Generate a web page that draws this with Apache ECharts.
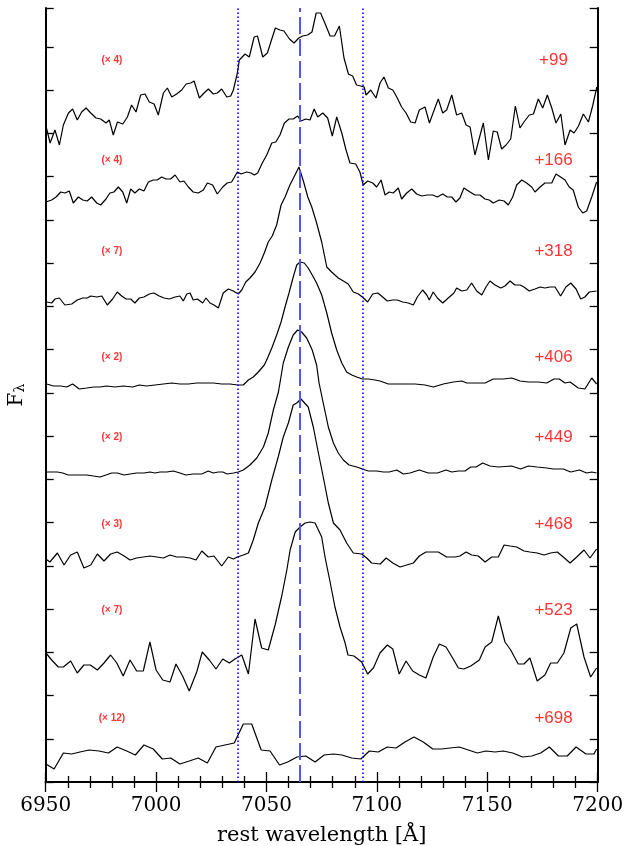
<!DOCTYPE html>
<html><head><meta charset="utf-8">
<script src="https://cdn.jsdelivr.net/npm/echarts@6/dist/echarts.min.js"></script>
<style>html,body{margin:0;padding:0;background:#fff}#c{width:626px;height:846px}</style>
</head><body><div id="c"></div>
<script>
// Flux in arbitrary (offset) units, wavelength in Angstrom
const wl99=[6950,6952,6954.2,6956.2,6958,6960.3,6962.2,6964.3,6966.3,6968.3,6970.4,6972.8,6974.9,6977.3,6978.8,6980.6,6982.5,6984.9,6987,6988.9,6990.9,6993,6995,6996.9,6999.1,7001,7003.3,7005.1,7007.1,7009.3,7011.6,7013.6,7015.7,7017.2,7019.6,7021.7,7023.7,7025.9,7027.7,7029.7,7032,7033.8,7035,7036.8,7037.7,7040.3,7042.2,7044.4,7045.9,7048.3,7050.4,7052.4,7054,7056.1,7057.9,7060.4,7062.5,7064.6,7066.4,7068.6,7070.6,7072.5,7074.5,7076.6,7078.8,7080.8,7083,7085.1,7087.1,7089,7090.8,7092.7,7094.2,7095.1,7097.2,7099.6,7101.4,7103.2,7105.2,7107.2,7109,7111.2,7113.2,7115.3,7117.3,7119.2,7121.8,7123.8,7125.6,7127.8,7129.8,7131.6,7133.9,7136.1,7138.4,7140.4,7142.2,7144.4,7146.4,7148.2,7150.5,7152.7,7154.5,7156.5,7158.5,7160.6,7162.7,7164.8,7166.6,7169,7170.9,7173.1,7175.1,7177.2,7179.2,7181.1,7183.3,7185.2,7187.5,7189.3,7191.3,7193.5,7195.8,7197.7,7199.6];
const fx99=[657,639,652,637,657,669,673,662,670,674,669,664,663,659,662,647,660,658,665,677,670,687,688,680,678,667,689,694,685,688,692,698,699,701,684,689,693,688,689,693,685,686,692,709,722,728,725,745,746,725,729,743,754,752,751,743,739,744,746,747,750,769,769,758,746,746,756,724,708,706,697,696,695,687,692,684,699,705,694,692,685,675,669,660,659,672,675,659,670,683,669,672,687,667,669,657,655,627,644,659,622,651,650,633,637,643,676,654,660,667,668,683,674,687,674,659,668,637,652,649,656,668,660,676,695];

const wl166=[6950.1,6952.7,6954.7,6956.8,6958.7,6960.7,6962.5,6964.8,6966.8,6968.8,6970.8,6973.1,6974.9,6977.3,6979.1,6980.9,6982.9,6984.9,6986.7,6988.5,6990.4,6992.4,6994.5,6996.5,6998.7,7000.5,7002.5,7004.5,7006.6,7008.6,7010.8,7012.6,7014.6,7016.8,7019.1,7021.4,7023.2,7025.6,7027.7,7030.2,7032.2,7034.2,7036.8,7038.5,7041,7043,7044.5,7046,7048.1,7050.1,7052.4,7054.2,7056.1,7058.1,7060.2,7062.1,7064.1,7065.6,7067.8,7069.7,7071.6,7073.2,7075.5,7077.7,7079.8,7081.8,7084.1,7085.9,7087.8,7090.4,7092.3,7093.8,7095.8,7098.1,7099.9,7101.9,7103.7,7105.6,7107.4,7109.7,7111.2,7113.5,7115.8,7118,7120.3,7122.8,7125.3,7127.4,7129.8,7131.9,7133.9,7135.8,7137.6,7139.4,7142.2,7144.4,7146.7,7148.9,7150.9,7152.7,7155.4,7157.6,7159.5,7161.5,7163.3,7165.6,7167.8,7170.1,7171.6,7173.9,7176.1,7179.2,7181.1,7183.2,7185.2,7187.1,7188.9,7191.2,7193.2,7195,7197.3,7199.5];
const fx166=[580,582,585,590,589,591,579,585,582,581,585,579,577,583,589,590,595,590,579,593,589,593,591,600,602,602,605,603,603,607,600,601,595,590,589,592,599,597,588,595,599,600,610,608,610,609,607,609,619,627,639,640,647,659,663,663,666,661,663,662,673,665,669,664,646,665,649,633,619,618,610,597,601,599,595,602,587,590,589,594,583,589,593,588,586,587,587,585,588,585,585,580,584,594,590,587,587,583,582,579,582,581,577,585,597,602,599,595,590,595,599,599,608,605,602,595,592,575,569,571,585,600];

const wl318=[6950.5,6952.7,6954.2,6956.2,6958.7,6961.8,6964.3,6966.8,6968.8,6970.4,6973.1,6975.4,6977.9,6980.3,6982.4,6984.4,6986.4,6988.5,6990.4,6992.4,6994.5,6996.9,6999,7001.4,7003.6,7006,7008.6,7010.8,7012.3,7013.9,7015.4,7016.8,7018.7,7021.1,7022.6,7024.4,7026.2,7028.2,7030.4,7032.7,7035,7037.2,7038.8,7040.6,7042.5,7044.8,7047.1,7049,7050.8,7052.6,7054.6,7056.6,7058.4,7060.6,7062.9,7064.7,7066.7,7068.7,7070.5,7072.7,7075,7077.3,7079.5,7082.5,7084.8,7087,7089.3,7091.6,7093.4,7095.8,7098.1,7100.4,7102.6,7104.7,7107.2,7109.2,7111.7,7114.2,7116.5,7118.3,7120.7,7122.6,7123.7,7125.5,7127.4,7129.8,7132.3,7134.9,7136.1,7138.4,7140.7,7142.9,7145.2,7147.5,7149.4,7151.2,7153.5,7156.1,7158,7160.3,7162.5,7164.8,7166.6,7169,7171.6,7173.9,7176.1,7178.4,7180.7,7183.2,7185.6,7187.8,7190.2,7192.3,7194.2,7196.2,7199.5];
const fx318=[480,479,483,484,477,478,482,484,484,486,485,486,477,483,490,486,483,483,479,484,485,488,489,486,484,483,485,486,481,488,489,482,483,479,484,479,477,474,489,493,491,488,492,500,504,510,519,529,540,546,557,577,585,597,607,615,601,585,575,559,540,515,510,504,501,498,490,488,485,480,488,489,485,481,482,482,480,479,477,485,492,487,482,490,484,479,484,489,494,491,492,499,491,487,495,501,497,494,496,501,497,497,495,491,493,495,494,495,495,486,495,499,493,483,485,490,491];

const wl406=[6950.5,6953.5,6956.8,6959.5,6962.2,6965.2,6968.6,6971.9,6974.6,6977.6,6981.4,6985.1,6989.4,6992.4,6995.7,6999.5,7003.3,7007.1,7010.8,7014.6,7018.4,7022.1,7025.9,7029.7,7033.5,7036.8,7039.5,7041.8,7044,7046.3,7049,7050.5,7052.4,7054.6,7056.6,7058.4,7060.2,7062.1,7063.7,7065.2,7067.1,7068.9,7070.7,7072.7,7075,7077.3,7079.5,7081.8,7084.1,7086.3,7088.6,7090.9,7093.4,7096.1,7099.1,7101.4,7105.2,7109,7113.5,7117.3,7121.8,7125.6,7130.1,7134.6,7138.4,7140.7,7144.4,7149,7152.7,7157.2,7161.1,7164.8,7168.6,7173.1,7176.9,7180.2,7182.6,7185.2,7187.5,7191.2,7194.2,7197.3,7199.5];
const fx406=[398,396,396,395,398,393,394,395,395,396,395,396,395,397,396,397,398,399,398,398,399,399,399,398,398,397,397,402,405,410,417,424,434,447,460,475,489,505,517,520,519,514,507,499,487,469,449,432,419,410,407,405,403,403,402,401,398,398,398,398,397,395,398,400,401,399,399,399,403,403,404,401,400,400,399,403,403,399,400,394,393,404,398];

const wl449=[6950.5,6952.7,6955.3,6957.7,6960.2,6962.8,6965.5,6968.6,6971.6,6974.6,6977.3,6979.9,6982.4,6985.5,6988.2,6991.2,6994.5,6997.2,6999.5,7001.8,7004.8,7007.8,7010.8,7013.5,7016.8,7020.7,7023.6,7025.9,7028.2,7030.2,7032.2,7035,7037.2,7039.5,7042.5,7045.6,7048.6,7050.8,7053.1,7055.4,7057.6,7059.9,7062.1,7064.1,7065.9,7068.2,7070.7,7072.7,7073.8,7075.7,7078,7080.3,7082.5,7084.8,7087.4,7090.9,7093.4,7096.1,7099.9,7102.9,7105.6,7109,7112,7115,7119.2,7123.3,7127.4,7131.3,7133.9,7136.9,7139.9,7142.5,7144.9,7147.9,7151.2,7155,7161,7165.1,7168.6,7172.6,7176.9,7179.9,7184.4,7187.8,7191.7,7195,7197.3,7199.5];
const fx449=[310,310,310,309,307,307,307,307,306,305,307,309,309,307,308,309,309,310,309,310,310,311,309,307,308,308,311,309,310,310,308,309,310,312,317,324,335,349,372,390,419,435,447,452,450,444,432,417,399,379,355,339,329,322,317,315,313,311,311,310,310,312,308,309,312,309,309,312,310,311,311,315,315,319,316,315,316,313,316,315,314,313,313,310,312,309,310,309];

const wl468=[6950.1,6951.9,6955.3,6958.3,6961.3,6964.3,6967.3,6970.4,6973.4,6976.4,6979.4,6982.4,6985.5,6988.2,6991.2,6994.2,6997.2,7000.3,7003.3,7006.3,7009.3,7012.3,7015.4,7018.1,7020.7,7023.6,7026.2,7029.7,7032.7,7035,7036.8,7039.5,7041.8,7044,7046.3,7049.3,7052.4,7055.3,7057.6,7059.9,7062.1,7063.7,7065.6,7068.9,7071.2,7073.5,7075.7,7078,7080.3,7083.3,7086.3,7089.3,7093.1,7095.4,7097.6,7101.5,7104.2,7107.2,7110.5,7113.5,7116.5,7119.2,7122.2,7125.3,7127.8,7131.6,7135.4,7137.6,7140.4,7142.9,7145.9,7149,7152,7155,7157.6,7160.3,7163.3,7166.6,7169.3,7172.6,7175.7,7178.7,7181.7,7184.4,7187.5,7190.5,7193.8,7196.5,7199.5];
const fx468=[223,220,229,217,227,230,214,217,228,221,228,230,226,222,224,225,226,225,224,227,225,225,224,222,231,225,226,216,225,223,225,227,229,242,259,275,302,325,345,359,377,379,383,375,355,329,305,279,259,252,239,229,228,224,219,218,224,219,215,217,219,226,230,230,230,225,225,226,230,227,226,220,225,225,237,236,235,231,230,229,227,229,230,225,219,225,232,224,233];

const wl523=[6950.1,6952.7,6955.7,6958,6961.3,6964.3,6967.3,6970.2,6973.4,6976.4,6979.4,6982.2,6985.1,6988.2,6991.2,6994.2,6997.2,7000,7003,7006.3,7009,7012,7015,7018.4,7020.9,7024.1,7027.1,7030.2,7033.2,7035.7,7038.8,7041.8,7044.8,7047.8,7050.8,7053.9,7057,7059.2,7060.7,7063,7065.2,7067.5,7069.7,7072,7075,7076.5,7078.8,7081,7083.3,7085.6,7086.9,7089.6,7093.1,7095.8,7098.4,7101.4,7104.7,7107.2,7110.1,7113.2,7116.2,7119.2,7122.2,7125.5,7128.3,7131.3,7134.3,7136.9,7139.4,7142.5,7146.4,7149,7152,7155,7158,7160.6,7164,7166.6,7169.3,7172.6,7176.1,7178.7,7181.7,7184.7,7187.8,7190.5,7193.8,7196.8,7199.5];
const fx523=[129,122,115,115,121,109,117,117,112,119,127,119,106,122,111,111,140,112,102,100,118,106,91,110,130,122,113,123,119,123,127,108,163,134,132,157,187,212,232,250,255,259,260,259,245,225,200,175,155,139,127,126,120,108,114,129,137,133,108,121,111,107,104,125,138,135,124,114,113,116,122,135,140,166,140,132,118,118,124,101,107,119,119,129,154,158,125,105,114];

const wl698=[6950.1,6953.8,6958,6961.8,6965.5,6969.7,6974.1,6978.4,6982.4,6986.7,6990.6,6994.5,6998.7,7002.8,7006.6,7010.8,7015,7019.1,7023.2,7027.1,7031.2,7035.4,7039.5,7043.3,7047.6,7051.6,7055.9,7059.6,7063.8,7067.8,7072,7076.1,7080.3,7084.1,7088.6,7092.7,7096.6,7100.6,7104.7,7108.7,7112.7,7116.8,7121,7125.3,7129.3,7133.1,7137.3,7141.4,7145.5,7149.4,7153.5,7157.2,7161.5,7166,7170.1,7174.2,7178.1,7182.2,7186.2,7190.2,7194.7,7198.3,7199.5];
const fx698=[18,13,29,28,30,32,31,29,35,31,27,37,33,23,24,18,21,24,19,35,37,39,58,58,32,31,17,20,25,26,20,27,28,27,24,23,31,30,35,34,40,45,40,33,33,34,35,32,29,31,30,31,29,25,26,29,35,26,26,35,28,28,33];

const epochs=['+99','+166','+318','+406','+449','+468','+523','+698'];
const scales=['(× 4)','(× 4)','(× 7)','(× 2)','(× 2)','(× 3)','(× 7)','(× 12)'];
const labelFlux=[722,622,531,425,345,258,172,64];
const lineWls=[7037,7065,7093.4];

const spectra=[[wl99,fx99],[wl166,fx166],[wl318,fx318],[wl406,fx406],[wl449,fx449],[wl468,fx468],[wl523,fx523],[wl698,fx698]];
const zip=(a,b)=>a.map((v,i)=>[v,b[i]]);

const series=spectra.map((s,i)=>({
  type:'line',xAxisIndex:0,yAxisIndex:0,data:zip(s[0],s[1]),showSymbol:false,
  lineStyle:{color:'#000',width:1.2},silent:true,animation:false,z:3
}));
series[0].markLine={silent:true,symbol:['none','none'],label:{show:false},animation:false,
  data:[
    {xAxis:lineWls[0],lineStyle:{color:'#0000ff',width:1.6,type:[1.5,2.5]}},
    {xAxis:lineWls[1],lineStyle:{color:'#5555ff',width:2,type:[17,5]}},
    {xAxis:lineWls[2],lineStyle:{color:'#0000ff',width:1.6,type:[1.5,2.5]}}
  ]};
series.push({type:'scatter',symbolSize:1,itemStyle:{color:'rgba(0,0,0,0)'},silent:true,animation:false,
  data:epochs.map((t,i)=>[7180,labelFlux[i],t]),
  label:{show:true,position:'inside',formatter:p=>p.data[2],color:'#ff0000',fontFamily:'Liberation Sans',fontSize:17}});
series.push({type:'scatter',symbolSize:1,itemStyle:{color:'rgba(0,0,0,0)'},silent:true,animation:false,
  data:scales.map((t,i)=>[6980,labelFlux[i],t]),
  label:{show:true,position:'inside',formatter:p=>p.data[2],color:'#ff0000',fontFamily:'Liberation Sans',fontSize:10,fontWeight:'bold'}});

const axLine={lineStyle:{color:'#000',width:2}};
const xCommon={type:'value',min:6950,max:7200,interval:50,axisLine:axLine,splitLine:{show:false},
  axisTick:{inside:true,length:10,lineStyle:{color:'#000',width:1.3}},
  minorTick:{show:true,splitNumber:5,length:6,lineStyle:{color:'#000',width:1.3}}};
const yCommon={type:'value',min:0,max:774,interval:43.25,axisLine:axLine,splitLine:{show:false},
  axisTick:{inside:true,length:8,lineStyle:{color:'#000',width:1.3}},axisLabel:{show:false}};

const chart=echarts.init(document.getElementById('c'),null,{renderer:'canvas'});
chart.setOption({
  animation:false,backgroundColor:'#fff',
  grid:{left:45.7,right:28.3,top:8,bottom:64,containLabel:false,outerBoundsMode:'none'},
  xAxis:[
    Object.assign({},xCommon,{position:'bottom',name:'rest wavelength [Å]',nameLocation:'middle',nameGap:43,
      nameTextStyle:{fontFamily:'DejaVu Serif',fontSize:21,color:'#000'},
      axisLabel:{fontFamily:'DejaVu Serif',fontSize:20,color:'#000',margin:14,formatter:v=>String(v)}}),
    Object.assign({},xCommon,{position:'top',axisLabel:{show:false}})
  ],
  yAxis:[
    Object.assign({},yCommon,{position:'left',name:'{a|F}{b|λ}',nameLocation:'middle',nameGap:18,nameRotate:90,
      nameTextStyle:{rich:{a:{fontFamily:'DejaVu Serif',fontSize:20,color:'#000'},b:{fontFamily:'DejaVu Serif',fontSize:14,color:'#000',padding:[8,0,0,0]}}}}),
    Object.assign({},yCommon,{position:'right'})
  ],
  series:series
});
</script></body></html>
